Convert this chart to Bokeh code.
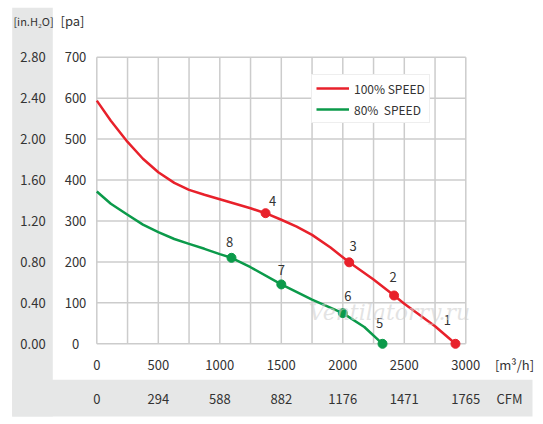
from bokeh.plotting import figure
from bokeh.models import Range1d, Legend, LegendItem, ColumnDataSource
from bokeh.core.properties import value
from bokeh.embed import file_html
from bokeh.resources import INLINE

# ---------------- data ----------------
flow_100 = [0, 114, 250, 375, 500, 630, 750, 875, 1000, 1125, 1250, 1372, 1500, 1625,
            1750, 1900, 2052, 2250, 2417, 2500, 2750, 2916]
pres_100 = [594, 545, 493, 452, 419, 393, 376, 364, 353, 342, 331, 319, 303, 286,
            266, 235, 199, 157, 118, 98, 43, 0]
flow_80 = [0, 114, 250, 375, 500, 630, 750, 875, 1000, 1095, 1250, 1500, 1750, 2000, 2175, 2323]
pres_80 = [372, 342, 315, 291, 273, 256, 244, 232, 219, 210, 187, 145, 108, 75, 41, 0]

pts_100_flow = [2916, 2417, 2052, 1372]
pts_100_pres = [0, 118, 199, 319]
pts_100_lbl = ["1", "2", "3", "4"]
pts_80_flow = [2323, 2000, 1500, 1095]
pts_80_pres = [0, 75, 145, 210]
pts_80_lbl = ["5", "6", "7", "8"]

m3h_ticks = [0, 500, 1000, 1500, 2000, 2500, 3000]
m3h_labels = ["0", "500", "1000", "1500", "2000", "2500", "3000"]
cfm_labels = ["0", "294", "588", "882", "1176", "1471", "1765"]
grid_x = [0, 250, 500, 750, 1000, 1250, 1500, 1750, 2000, 2250, 2500, 2750, 3000]
pa_ticks = [0, 100, 200, 300, 400, 500, 600, 700]
pa_labels = ["0", "100", "200", "300", "400", "500", "600", "700"]
inh2o_labels = ["0.00", "0.40", "0.80", "1.20", "1.60", "2.00", "2.40", "2.80"]

X_MIN, X_MAX = 0, 3000
P_MIN, P_MAX = 0, 700

# ---------------- style / layout ----------------
FONT = "Noto Sans CJK SC"
RED = "#e8212b"
GREEN = "#0b9a4a"
TXT = "#333333"
GRID = "#cccccc"
BAND = "#e6e7e7"
FS = "13px"

W, H = 543, 424
# plot area in canvas pixels
PL, PR, PT, PB = 96.3, 465.3, 56.7, 343.3
sx = (PR - PL) / (X_MAX - X_MIN)
sy = (PB - PT) / (P_MAX - P_MIN)


def dx(px):  # canvas x px -> data x
    return X_MIN + (px - PL) / sx


def dy(py):  # canvas y px -> data y
    return P_MIN + (PB - py) / sy


p = figure(width=W, height=H, output_backend="svg", toolbar_location=None,
           x_range=Range1d(dx(0), dx(W)), y_range=Range1d(dy(H), dy(0)),
           min_border=0, x_axis_location=None, y_axis_location=None,
           background_fill_color="white", border_fill_color="white")
p.outline_line_color = None
p.grid.visible = False

# gray bands
p.quad(left=[dx(11.7), dx(11.7)], right=[dx(52.3), dx(532)],
       bottom=[dy(416), dy(416)], top=[dy(7.3), dy(379.3)],
       fill_color=BAND, line_color=None)

# grid
p.segment(x0=grid_x, x1=grid_x, y0=[P_MIN] * len(grid_x), y1=[P_MAX] * len(grid_x),
          line_color=GRID, line_width=1.5)
p.segment(x0=[X_MIN] * len(pa_ticks), x1=[X_MAX] * len(pa_ticks), y0=pa_ticks, y1=pa_ticks,
          line_color=GRID, line_width=1.5)

txt_kw = dict(text_font=value(FONT), text_font_size=FS, text_color=TXT,
              text_align="center", text_baseline="middle")

# axis tick labels
p.text(x=m3h_ticks, y=[dy(364)] * len(m3h_ticks), text=m3h_labels, **txt_kw)
p.text(x=m3h_ticks, y=[dy(398)] * len(m3h_ticks), text=cfm_labels, **txt_kw)
p.text(x=[dx(75)] * len(pa_ticks), y=pa_ticks, text=pa_labels, **txt_kw)
p.text(x=[dx(32.5)] * len(pa_ticks), y=pa_ticks, text=inh2o_labels, **txt_kw)

# unit labels
p.text(x=[dx(33)], y=[dy(20)], text=["[in.H₂O]"], text_font=value(FONT), text_font_size="11px",
       text_color=TXT, text_align="center", text_baseline="middle")
p.text(x=[dx(72), dx(514), dx(509)], y=[dy(20), dy(364), dy(398)],
       text=["[pa]", "[m³/h]", "CFM"], **txt_kw)

# curves
l100 = p.line(flow_100, pres_100, line_color=RED, line_width=2.5, line_join="round")
l80 = p.line(flow_80, pres_80, line_color=GREEN, line_width=2.5, line_join="round")
p.scatter(pts_100_flow, pts_100_pres, size=9, fill_color=RED, line_color=RED)
p.scatter(pts_80_flow, pts_80_pres, size=9, fill_color=GREEN, line_color=GREEN)

# point numbers (screen offsets)
off_100 = [(-8, 24), (-1, 18), (4, 16), (7, 12)]
off_80 = [(-3, 21), (5, 17), (0, 14), (-2, 16)]
src_lbl = ColumnDataSource(dict(
    x=pts_100_flow + pts_80_flow,
    y=pts_100_pres + pts_80_pres,
    t=pts_100_lbl + pts_80_lbl,
    ox=[o[0] for o in off_100 + off_80],
    oy=[-o[1] for o in off_100 + off_80],
))
p.text(x="x", y="y", text="t", x_offset="ox", y_offset="oy", source=src_lbl, **txt_kw)

# watermark
p.text(x=[dx(389)], y=[dy(312)], text=["Ventilatorry.ru"], text_font=value("DejaVu Serif"),
       text_font_style="italic", text_font_size="22px", text_color="#d0d0d0", text_alpha=0.6,
       text_align="center", text_baseline="middle")

# legend
legend = Legend(items=[LegendItem(label="100% SPEED", renderers=[l100]),
                       LegendItem(label="80%  SPEED", renderers=[l80])],
                location=(311, 301), label_text_font=FONT, label_text_font_size="12px",
                label_text_color=TXT, glyph_width=33, glyph_height=18, label_height=18,
                label_standoff=5, spacing=3, padding=4, margin=0,
                border_line_color="#dddddd", border_line_width=1,
                background_fill_color="white", background_fill_alpha=1)
p.add_layout(legend, "center")

open("out.html", "w").write(file_html(p, INLINE))
